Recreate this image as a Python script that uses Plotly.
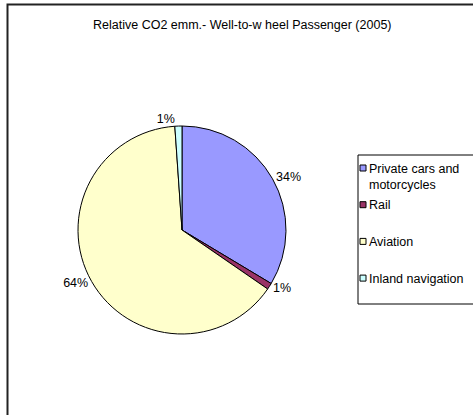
import plotly.graph_objects as go

# Passenger transport CO2 emissions, well-to-wheel, 2005 (share in %)
categories = ["Private cars and motorcycles", "Rail", "Aviation", "Inland navigation"]
legend_labels = ["Private cars and<br>motorcycles", "Rail", "Aviation", "Inland navigation"]
shares = [33.6, 1.0, 64.3, 1.1]
colors = ["#9999FF", "#993366", "#FFFFCC", "#CCFFFF"]
title_text = "Relative CO2 emm.- Well-to-w heel Passenger (2005)"

W, H = 473, 415
FONT = "Liberation Sans, Arial, sans-serif"
FS = 12.5

def px(x):
    return x / W

def py(y):
    return 1 - y / H

# pie placement in pixels
cx, cy, r = 182, 230, 104

fig = go.Figure(
    go.Pie(
        labels=categories,
        values=shares,
        sort=False,
        direction="clockwise",
        rotation=0,
        marker=dict(colors=colors, line=dict(color="#000000", width=1)),
        textinfo="percent",
        texttemplate="%{percent:.0%}",
        textposition="outside",
        outsidetextfont=dict(family=FONT, size=FS, color="#000000"),
        showlegend=False,
        hoverinfo="label+percent",
        domain=dict(x=[px(cx - r), px(cx + r)], y=[py(cy + r), py(cy - r)]),
    )
)

shapes = [
    # chart frame
    dict(type="rect", xref="paper", yref="paper",
         x0=px(7.5), x1=1.02, y0=-0.02, y1=py(4.5),
         line=dict(color="#222222", width=2), fillcolor="rgba(0,0,0,0)"),
    # legend frame
    dict(type="rect", xref="paper", yref="paper",
         x0=px(358), x1=1.02, y0=py(304), y1=py(155),
         line=dict(color="#000000", width=1), fillcolor="rgba(0,0,0,0)"),
]

annotations = [
    dict(text=title_text, x=px(242), y=py(25), xref="paper", yref="paper",
         xanchor="center", yanchor="middle", showarrow=False,
         font=dict(family=FONT, size=FS, color="#000000")),
]

# hand-built legend entries
first_row, row_step = 168, 36.7
for i, (lab, col) in enumerate(zip(legend_labels, colors)):
    yc = first_row + i * row_step
    shapes.append(dict(type="rect", xref="paper", yref="paper",
                       x0=px(360), x1=px(366), y0=py(yc + 3), y1=py(yc - 3),
                       line=dict(color="#000000", width=1), fillcolor=col))
    annotations.append(dict(text=lab, x=px(367), y=py(yc - 8.5),
                            xref="paper", yref="paper", xanchor="left", yanchor="top",
                            align="left", showarrow=False,
                            font=dict(family=FONT, size=FS, color="#000000")))

fig.update_layout(
    width=W, height=H, autosize=False,
    margin=dict(l=0, r=0, t=0, b=0),
    paper_bgcolor="#FFFFFF", plot_bgcolor="#FFFFFF",
    shapes=shapes, annotations=annotations,
)

fig.write_html("out.html")
